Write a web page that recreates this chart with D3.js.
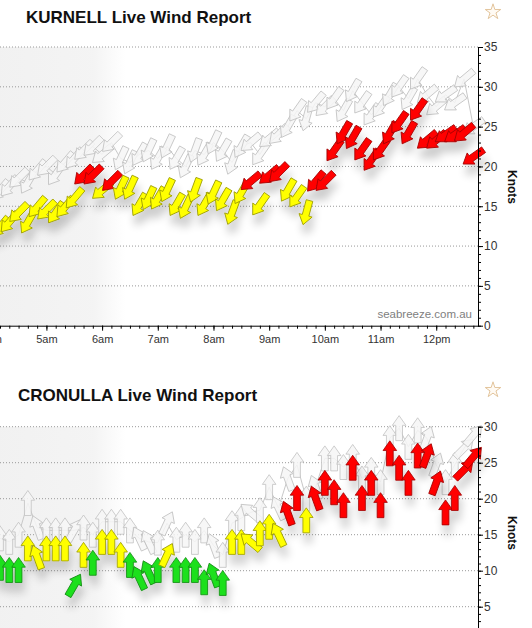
<!DOCTYPE html>
<html>
<head>
<meta charset="utf-8">
<script src="https://cdn.jsdelivr.net/npm/d3@7"></script>
<style>
body { margin: 0; background: #fff; }
svg { display: block; font-family: Arial, "Liberation Sans", sans-serif; }
</style>
</head>
<body>
<svg width="532" height="628"></svg>
<script>
// observation times, every 10 minutes
var times = ["4:10","4:20","4:30","4:40","4:50","5:00","5:10","5:20","5:30","5:40","5:50",
    "6:00","6:10","6:20","6:30","6:40","6:50","7:00","7:10","7:20","7:30","7:40","7:50",
    "8:00","8:10","8:20","8:30","8:40","8:50","9:00","9:10","9:20","9:30","9:40","9:50",
    "10:00","10:10","10:20","10:30","10:40","10:50","11:00","11:10","11:20","11:30","11:40","11:50",
    "12:00","12:10","12:20","12:30","12:40"];
var hourTicks = ["4:00","5:00","6:00","7:00","8:00","9:00","10:00","11:00","12:00"];

// KURNELL - average, gust (knots) and direction the wind comes from (deg)
var kurnellAvg = [12.4,13.0,14.2,13.0,14.9,14.5,14.2,14.9,16.0,18.9,18.9,17.0,18.1,17.3,17.3,15.2,16.0,16.0,17.0,15.2,
    14.9,17.0,15.2,16.7,15.8,14.2,16.7,18.1,15.2,18.9,19.2,17.0,16.2,14.2,18.1,18.1,22.0,24.2,23.6,22.1,
    20.8,22.1,24.2,25.5,24.2,27.1,23.3,23.3,24.0,24.0,24.2,21.2];
var kurnellGust = [17,17.5,18.5,18,19.5,20,19,20.5,21,22,22.5,21.5,23,21,20.5,21.5,22,21,22.5,21,
    20,22,21.5,23,22,20.5,22.5,23,21.5,23.5,24,25,27,26,28,27.5,28.5,27,29.5,28,
    26.5,27.5,29,30,28.5,31,29,27.5,29,28,31,25];
var kurnellDir = [40,40,45,30,40,45,35,40,40,45,45,50,45,25,25,30,25,30,25,30,
    25,20,30,25,30,20,30,50,35,50,45,30,35,15,40,45,35,30,30,35,
    35,35,30,35,30,35,50,50,55,55,50,55];

// CRONULLA
var cronullaAvg = [10.4,10.1,10.1,13.1,11.9,13.1,13.1,13.1,8.0,12.2,11.1,14.0,14.0,12.2,10.8,9.0,9.8,10.1,12.2,10.1,
    10.1,10.1,8.4,9.4,8.3,14.0,14.0,14.0,15.2,16.1,15.0,18.0,20.1,17.0,20.1,22.2,20.9,19.1,24.3,20.1,
    22.2,19.1,26.3,24.3,22.2,26.0,26.0,22.2,18.1,20.1,24.0,25.8];
var cronullaGust = [14.5,14,15,19.4,16,15.6,15.6,15.6,15.6,16,15,16.8,16.8,16.8,15.6,14.5,14,13.9,16.6,14.3,
    15,14,15.6,13.5,12.2,16.6,17.3,18.1,18.4,21.6,18.7,22.8,24.7,20,21.6,25.6,25.6,24.4,25.8,22.8,
    24,22.3,28.4,29.8,27.2,29.5,28.4,24.7,22.3,24.7,27,28.8];
var cronullaDir = [180,180,180,180,160,180,180,180,210,180,180,180,180,180,180,155,155,180,205,180,
    180,180,180,160,180,180,180,130,180,180,155,160,180,180,160,180,180,180,180,180,
    180,180,180,180,180,180,200,200,180,180,225,220];

function parseT(s) {
    var p = s.split(":");
    return new Date(2020, 0, 1, +p[0], +p[1]);
}

var svg = d3.select("svg");
var defs = svg.append("defs");

// soft shadow under the arrows
var f = defs.append("filter").attr("id", "shade")
    .attr("x", "-10%").attr("y", "-20%").attr("width", "130%").attr("height", "160%");
f.append("feGaussianBlur").attr("in", "SourceAlpha").attr("stdDeviation", 4).attr("result", "b");
f.append("feOffset").attr("in", "b").attr("dx", 2).attr("dy", 10).attr("result", "o");
f.append("feComponentTransfer").attr("in", "o").attr("result", "s")
    .append("feFuncA").attr("type", "linear").attr("slope", 0.2);
var fm = f.append("feMerge");
fm.append("feMergeNode").attr("in", "s");
fm.append("feMergeNode").attr("in", "SourceGraphic");

// night shading on the left
var ng = defs.append("linearGradient").attr("id", "night")
    .attr("x1", 0).attr("x2", 1).attr("y1", 0).attr("y2", 0);
ng.append("stop").attr("offset", "0%").attr("stop-color", "#e6e6e6").attr("stop-opacity", 0.55);
ng.append("stop").attr("offset", "75%").attr("stop-color", "#e6e6e6").attr("stop-opacity", 0.45);
ng.append("stop").attr("offset", "100%").attr("stop-color", "#e6e6e6").attr("stop-opacity", 0);

var x = d3.scaleTime().domain([parseT("4:10"), parseT("12:45")]).range([0, 478]);
var fill = d3.scaleThreshold().domain([11.5, 17.5]).range(["#1ee01e", "#ffff00", "#ff0000"]);
var edge = d3.scaleThreshold().domain([11.5, 17.5]).range(["#138a13", "#9a9a00", "#a00000"]);
var arrowPath = "M0,-12.5L6.8,-2.8L3.4,-2.8L3.4,12.5L-3.4,12.5L-3.4,-2.8L-6.8,-2.8Z";

function ampm(d) {
    var h = d.getHours();
    return (h % 12 === 0 ? 12 : h % 12) + (h < 12 ? "am" : "pm");
}

function panel(o) {
    var y = d3.scaleLinear().domain([0, o.max]).range([o.zero, o.top]);
    var g = svg.append("g");
    var pts = times.map(function(t, i) {
        return { t: parseT(t), avg: o.avg[i], gust: o.gust[i], dir: o.dir[i] };
    });

    g.append("rect").attr("x", 0).attr("y", o.top).attr("width", 125)
        .attr("height", Math.min(o.zero, 628) - o.top).attr("fill", "url(#night)");

    g.selectAll(".grid").data(d3.range(5, o.max + 1, 5)).enter().append("line")
        .attr("x1", 0).attr("x2", 478)
        .attr("y1", function(d) { return y(d); }).attr("y2", function(d) { return y(d); })
        .attr("stroke", "#999").attr("stroke-dasharray", "1,2");

    g.append("path").datum(pts)
        .attr("d", d3.line().x(function(d) { return x(d.t); }).y(function(d) { return y(d.gust); }))
        .attr("fill", "none").attr("stroke", "#c8c8c8").attr("stroke-width", 1);

    g.append("g").selectAll("path").data(pts).enter().append("path")
        .attr("d", arrowPath)
        .attr("transform", function(d) { return "translate(" + x(d.t) + "," + y(d.gust) + ") rotate(" + (d.dir + 180) + ")"; })
        .attr("fill", "#f6f6f6").attr("fill-opacity", 0.85)
        .attr("stroke", "#c2c2c2").attr("stroke-width", 0.8);

    g.append("g").attr("filter", "url(#shade)").selectAll("path").data(pts).enter().append("path")
        .attr("d", arrowPath)
        .attr("transform", function(d) { return "translate(" + x(d.t) + "," + y(d.avg) + ") rotate(" + (d.dir + 180) + ")"; })
        .attr("fill", function(d) { return fill(d.avg); })
        .attr("stroke", function(d) { return edge(d.avg); }).attr("stroke-width", 0.8);

    // right axis
    var ax = g.append("g").attr("transform", "translate(478,0)");
    ax.call(d3.axisRight(y).tickValues(d3.range(0, o.max + 1)).tickSize(3).tickSizeOuter(0).tickFormat(""));
    ax.append("g").call(d3.axisRight(y).tickValues(d3.range(o.firstLabel, o.max + 1, 5)).tickSize(5).tickPadding(1).tickSizeOuter(0))
        .call(function(s) { s.select(".domain").remove(); });
    ax.selectAll("text").attr("font-size", 12).attr("fill", "#333").attr("font-family", "Arial, 'Liberation Sans', sans-serif");

    if (o.xAxis) {
        var bx = g.append("g").attr("transform", "translate(0," + o.zero + ")");
        bx.call(d3.axisBottom(x).tickValues(times.map(parseT)).tickSize(3).tickSizeOuter(0).tickFormat(""));
        bx.append("g").call(d3.axisBottom(x).tickValues(hourTicks.map(parseT)).tickSize(5).tickPadding(5).tickFormat(ampm))
            .call(function(s) { s.select(".domain").remove(); });
        bx.selectAll("text").attr("font-size", 11).attr("fill", "#333").attr("font-family", "Arial, 'Liberation Sans', sans-serif");
    }

    g.append("text").attr("x", o.titleX).attr("y", o.titleY)
        .attr("font-size", 17).attr("font-weight", "bold").attr("fill", "#111").text(o.title);
    g.append("path").attr("d", d3.symbol().type(d3.symbolStar).size(75)())
        .attr("transform", "translate(493," + o.starY + ")")
        .attr("fill", "#fffaf3").attr("stroke", "#e3c59d").attr("stroke-width", 1);
    g.append("text").attr("transform", "translate(512," + o.knotsY + ") rotate(90)")
        .attr("text-anchor", "middle").attr("dy", "0.35em")
        .attr("font-size", 12).attr("font-weight", "bold").attr("fill", "#111").text("Knots");
    if (o.credit) {
        g.append("text").attr("x", 472).attr("y", 318).attr("text-anchor", "end")
            .attr("font-size", 11.5).attr("fill", "#808080").text("seabreeze.com.au");
    }
}

panel({ title: "KURNELL Live Wind Report", titleX: 26, titleY: 23, starY: 12,
    top: 47, zero: 325.7, max: 35, firstLabel: 0, avg: kurnellAvg, gust: kurnellGust, dir: kurnellDir,
    xAxis: true, knotsY: 187, credit: true });
panel({ title: "CRONULLA Live Wind Report", titleX: 18, titleY: 401, starY: 390,
    top: 426.7, zero: 642.7, max: 30, firstLabel: 5, avg: cronullaAvg, gust: cronullaGust, dir: cronullaDir,
    xAxis: false, knotsY: 533, credit: false });
</script>
</body>
</html>
